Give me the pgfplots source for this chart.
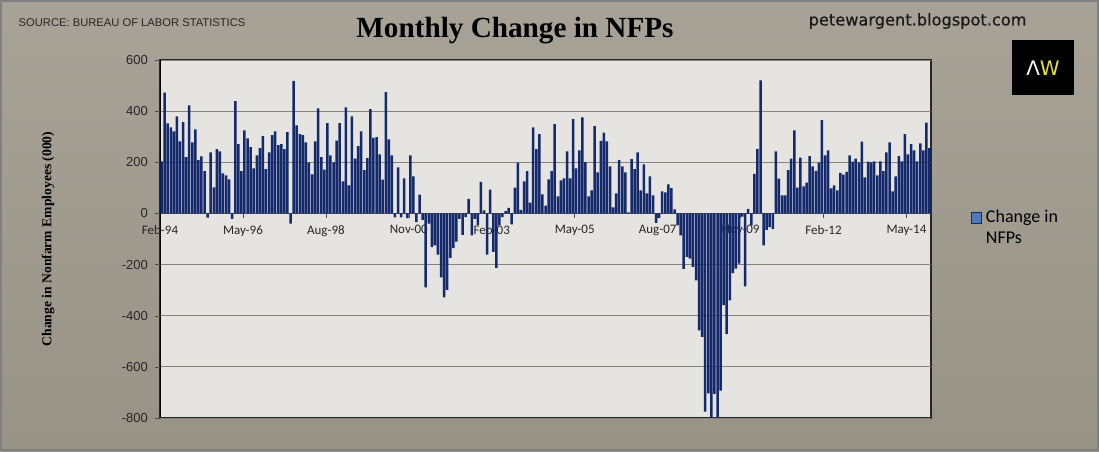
\documentclass[border=0pt]{standalone}
\usepackage{fontspec}
\setmainfont{Liberation Sans}
\newfontfamily\titlefont{Liberation Serif}
\newfontfamily\calfont{Carlito}
\newfontfamily\dvfont{DejaVu Sans}
\newfontfamily\dvfontb[FakeBold=0.5]{DejaVu Sans}
\usepackage{pgfplots}
\pgfplotsset{compat=1.18}
\usepackage{pgfplotstable}
\definecolor{bgc}{RGB}{160,154,142}
\definecolor{plotbg}{RGB}{229,228,225}
\definecolor{barc}{RGB}{20,42,108}
\definecolor{legc}{RGB}{79,120,190}
\definecolor{gridc}{RGB}{135,130,122}
\definecolor{logoy}{RGB}{232,222,60}

\pgfplotstableread{
v
204
472
352
337
321
380
282
357
220
423
278
329
208
223
165
-16
239
102
251
243
157
149
133
-21
439
271
165
325
294
259
176
227
255
302
173
239
306
321
267
271
251
318
-40
518
344
310
306
278
200
153
282
411
220
171
353
227
200
285
353
125
415
110
380
214
263
321
169
216
408
295
298
231
132
474
290
227
-15
180
-15
137
-18
227
145
-34
74
-25
-289
-40
-132
-125
-161
-250
-328
-299
-174
-136
-110
-21
-84
-14
57
-86
-21
-45
123
12
-161
93
-150
-213
-47
-14
9
22
-43
101
199
14
125
165
42
337
251
310
75
31
133
165
349
67
129
137
243
137
369
176
247
376
201
67
90
341
161
284
316
282
184
24
78
208
184
161
4
212
173
239
90
192
78
145
71
-37
-17
86
82
114
99
16
-47
-86
-217
-170
-177
-209
-262
-457
-483
-775
-704
-805
-706
-805
-693
-359
-472
-340
-233
-216
-196
-12
-285
18
-47
155
252
520
-125
-64
-54
-60
243
136
71
71
169
214
325
101
218
106
120
224
184
166
199
365
227
247
98
110
90
159
152
163
227
203
214
200
281
141
203
200
204
149
204
165
239
278
86
145
224
204
310
231
271
247
204
274
247
355
255
}\nfp

\begin{document}
\begin{tikzpicture}
\useasboundingbox (0,0) rectangle (549.5pt,225.5pt);
\shade[top color=bgc!92!white, bottom color=bgc!95!black] (0,0) rectangle (549.5pt,225.5pt);
\draw[black!50, line width=1pt] (0.5pt,0.5pt) rectangle (549pt,225pt);
\node[anchor=west, font=\fontsize{5.6}{7}\selectfont, text=black!85] at (5.8pt,214pt) {SOURCE: BUREAU OF LABOR STATISTICS};
\node[font=\titlefont\bfseries\fontsize{14.6}{16}\selectfont] at (257.5pt,210pt) {Monthly Change in NFPs};
\node[anchor=west, font=\dvfontb\fontsize{8.1}{9}\selectfont, text=black!90] at (400.8pt,215pt) {petewargent.blogspot.com};
\fill[black] (506pt,178pt) rectangle (537pt,205.5pt);
\node[font=\dvfont\fontsize{10}{12}\selectfont] at (521.5pt,191.5pt) {\textcolor{white}{Λ}\textcolor{logoy}{W}};
\begin{axis}[
  at={(80pt,16.5pt)}, anchor=south west,
  scale only axis, width=385.5pt, height=179pt,
  xmin=-0.5, xmax=250.5, ymin=-800, ymax=600,
  axis x line=middle, axis y line=left,
  hide obscured x ticks=false,
  axis line style={-},
  x axis line style={black!70},
  y axis line style={black},
  axis background/.style={fill=plotbg, draw=black!85, line width=0.6pt},
  ytick={-800,-600,-400,-200,0,200,400,600},
  ymajorgrids, grid style={gridc, line width=0.4pt},
  xtick={-0.5,26.5,53.5,80.5,107.5,134.5,161.5,188.5,215.5,242.5},
  xticklabels={Feb-94,May-96,Aug-98,Nov-00,Feb-03,May-05,Aug-07,Nov-09,Feb-12,May-14},
  tick align=outside, major tick length=2.5pt,
  tick style={black!70},
  /pgf/number format/assume math mode=true,
  yticklabel style={font=\fontsize{6.5}{7.5}\selectfont, text=black!85},
  xticklabel style={font=\calfont\fontsize{6.5}{7.5}\selectfont, text=black!85},
  every axis y label/.style={at={(rel axis cs:-0.1453,0.5)}, rotate=90, anchor=center},
  ylabel={Change in Nonfarm Employees (000)},
  ylabel style={font=\titlefont\bfseries\fontsize{6.8}{8}\selectfont},
  legend style={at={(rel axis cs:1.043,0.61)}, anchor=north west, draw=none, fill=none,
    font=\calfont\fontsize{9}{10.5}\selectfont, cells={anchor=base west}},
  legend image code/.code={\draw[fill=legc, draw=barc, line width=0.4pt] (0pt,-0.2pt) rectangle (5.3pt,5.1pt);},
]
\addplot[ybar, bar width=1.25pt, fill=barc, draw=none] table[x expr=\coordindex, y=v] {\nfp};
\addlegendentry{\begin{tabular}[t]{@{}l@{}}Change in\\NFPs\end{tabular}}
\end{axis}
\end{tikzpicture}
\end{document}
